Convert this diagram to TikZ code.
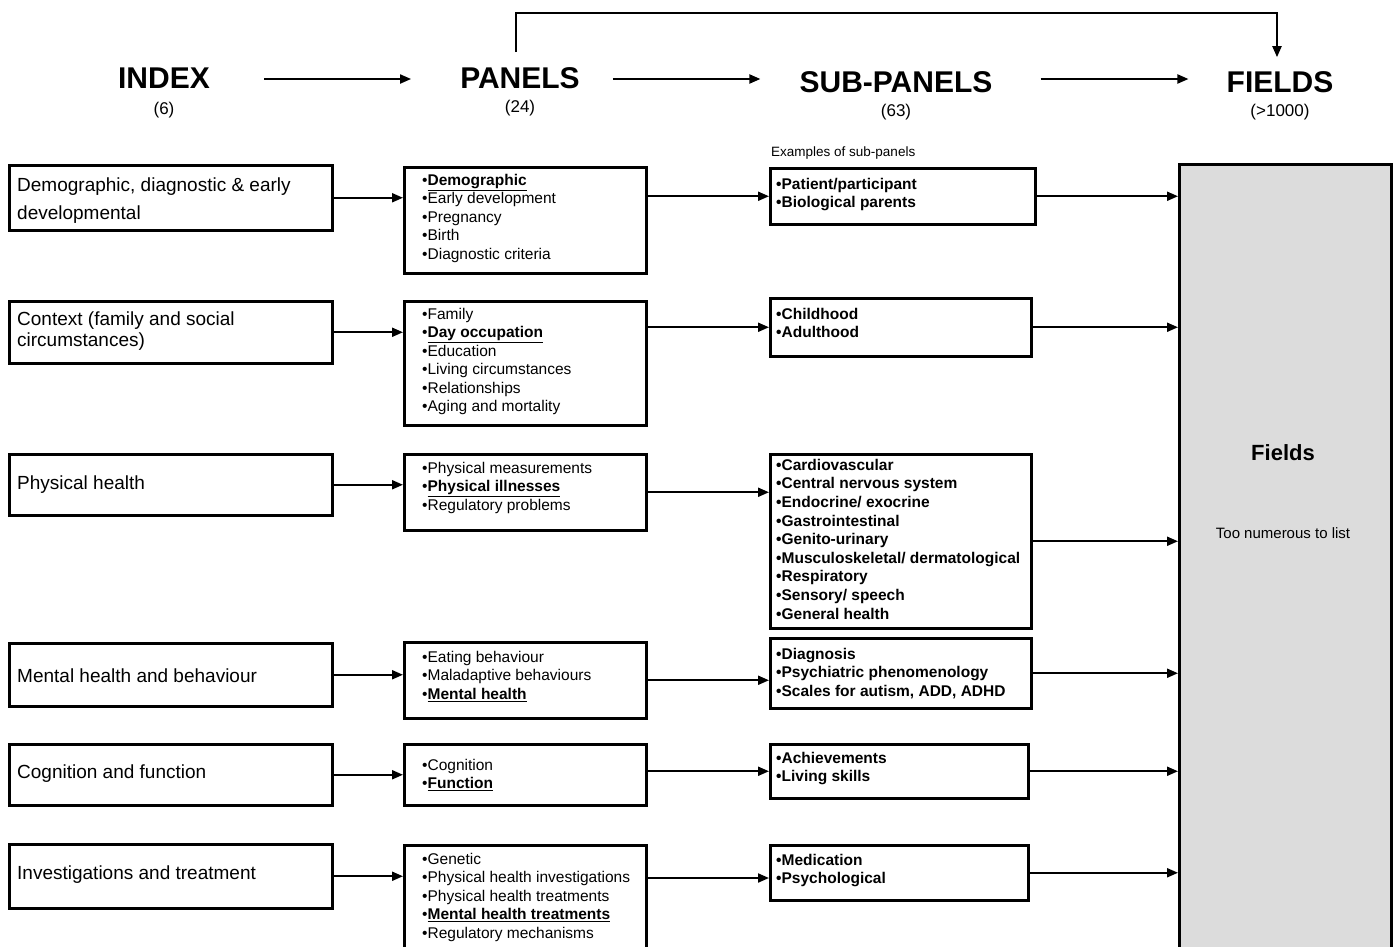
\documentclass[tikz,border=0pt]{standalone}
\usepackage{fontspec}
\setmainfont{Liberation Sans}
\usetikzlibrary{arrows.meta}
\definecolor{fieldgray}{RGB}{220,220,220}
\begin{document}
\begin{tikzpicture}[x=1pt,y=-1pt,
  box/.style={draw, line width=2.5pt, anchor=north west, inner sep=0pt},
  arr/.style={line width=2pt, -{Triangle[length=11pt,width=9pt]}},
  head/.style={inner sep=0pt, font=\fontsize{30}{34}\selectfont\bfseries},
  count/.style={inner sep=0pt, font=\fontsize{17}{20}\selectfont},
  itext/.style={anchor=north west, inner sep=0pt, align=left, font=\fontsize{19}{28.5}\selectfont},
  ptext/.style={anchor=north west, inner sep=0pt, align=left, font=\fontsize{15.5}{18.5}\selectfont},
  stext/.style={anchor=north west, inner sep=0pt, align=left, font=\fontsize{15.5}{18.6}\selectfont\bfseries}
]
\useasboundingbox (0,0) rectangle (1394,946);
\clip (0,0) rectangle (1394,946);

% headers
\node[head] (hindex) at (164,78) {INDEX};
\node[head] (hpanels) at (520,78) {PANELS};
\node[head] (hsub) at (896,82) {SUB-PANELS};
\node[head] (hfields) at (1280,82) {FIELDS};
\node[count] (cindex) at (164,110) {(6)};
\node[count] (cpanels) at (520,108) {(24)};
\node[count] (csub) at (896,112) {(63)};
\node[count] (cfields) at (1280,112) {(>1000)};
\coordinate (hy) at (0,79);
\draw[arr, shorten <=54pt, shorten >=49pt] (hindex.east |- hy) -- (hpanels.west |- hy);
\draw[arr, shorten <=33pt, shorten >=39pt] (hpanels.east |- hy) -- (hsub.west |- hy);
\draw[arr, shorten <=48pt, shorten >=38pt] (hsub.east |- hy) -- (hfields.west |- hy);
\draw[arr] ([xshift=-4pt,yshift=15pt]hpanels.north) -- ([xshift=-4pt,yshift=54pt]hpanels.north) -| ([xshift=-3pt,yshift=14pt]hfields.north);

% fields column
\node[box, fill=fieldgray, minimum width=212pt, minimum height=800pt] (f) at (1178,163) {};
\node[inner sep=0pt, font=\fontsize{22}{26}\selectfont\bfseries] (ftitle) at (1283,453) {Fields};
\node[inner sep=0pt, font=\fontsize{15}{18}\selectfont] (fnote) at (1283,533) {Too numerous to list};
\node[anchor=base west, inner sep=0pt, font=\fontsize{13.5}{16}\selectfont] (examples) at (771,156) {Examples of sub-panels};

% index boxes
\node[box, minimum width=323pt, minimum height=65pt] (i1) at (8,164) {};
\node[box, minimum width=323pt, minimum height=62pt] (i2) at (8,300) {};
\node[box, minimum width=323pt, minimum height=61pt] (i3) at (8,453) {};
\node[box, minimum width=323pt, minimum height=63pt] (i4) at (8,642) {};
\node[box, minimum width=323pt, minimum height=61pt] (i5) at (8,743) {};
\node[box, minimum width=323pt, minimum height=64pt] (i6) at (8,843) {};
\node[itext] (i1t) at (17,177.4) {Demographic, diagnostic \& early\\developmental};
\node[itext, font=\fontsize{19}{21.5}\selectfont] (i2t) at (17,311.4) {Context (family and social\\circumstances)};
\node[itext, anchor=base west] (i3t) at (17,489) {Physical health};
\node[itext, anchor=base west] (i4t) at (17,682) {Mental health and behaviour};
\node[itext, anchor=base west] (i5t) at (17,778) {Cognition and function};
\node[itext, anchor=base west] (i6t) at (17,879) {Investigations and treatment};

% panel boxes
\node[box, minimum width=242pt, minimum height=106pt] (p1) at (403,166) {};
\node[box, minimum width=242pt, minimum height=124pt] (p2) at (403,300) {};
\node[box, minimum width=242pt, minimum height=76pt] (p3) at (403,453) {};
\node[box, minimum width=242pt, minimum height=76pt] (p4) at (403,641) {};
\node[box, minimum width=242pt, minimum height=61pt] (p5) at (403,743) {};
\node[box, minimum width=242pt, minimum height=120pt] (p6) at (403,844) {};
\node[ptext] (p1t) at (422,173.8) {•\underline{\textbf{Demographic}}\\•Early development\\•Pregnancy\\•Birth\\•Diagnostic criteria};
\node[ptext] (p2t) at (422,307.8) {•Family\\•\underline{\textbf{Day occupation}}\\•Education\\•Living circumstances\\•Relationships\\•Aging and mortality};
\node[ptext] (p3t) at (422,461.8) {•Physical measurements\\•\underline{\textbf{Physical illnesses}}\\•Regulatory problems};
\node[ptext] (p4t) at (422,650.8) {•Eating behaviour\\•Maladaptive behaviours\\•\underline{\textbf{Mental health}}};
\node[ptext] (p5t) at (422,758.8) {•Cognition\\•\underline{\textbf{Function}}};
\node[ptext] (p6t) at (422,852.8) {•Genetic\\•Physical health investigations\\•Physical health treatments\\•\underline{\textbf{Mental health treatments}}\\•Regulatory mechanisms};

% sub-panel boxes
\node[box, minimum width=265pt, minimum height=56pt] (s1) at (769,167) {};
\node[box, minimum width=261pt, minimum height=58pt] (s2) at (769,297) {};
\node[box, minimum width=261pt, minimum height=174pt] (s3) at (769,453) {};
\node[box, minimum width=261pt, minimum height=70pt] (s4) at (769,637) {};
\node[box, minimum width=258pt, minimum height=54pt] (s5) at (769,743) {};
\node[box, minimum width=258pt, minimum height=55pt] (s6) at (769,844) {};
\node[stext] (s1t) at (776,177.8) {•Patient/participant\\•Biological parents};
\node[stext] (s2t) at (776,307.8) {•Childhood\\•Adulthood};
\node[stext] (s3t) at (776,458.8) {•Cardiovascular\\•Central nervous system\\•Endocrine/ exocrine\\•Gastrointestinal\\•Genito-urinary\\•Musculoskeletal/ dermatological\\•Respiratory\\•Sensory/ speech\\•General health};
\node[stext] (s4t) at (776,647.8) {•Diagnosis\\•Psychiatric phenomenology\\•Scales for autism, ADD, ADHD};
\node[stext] (s5t) at (776,751.8) {•Achievements\\•Living skills};
\node[stext] (s6t) at (776,853.8) {•Medication\\•Psychological};

% index -> panels
\foreach \k in {1,...,6} {
  \draw[arr] (i\k.east) -- (i\k.east -| p\k.west);
}
% panels -> sub-panels
\coordinate (a6) at (0,878);
\draw[arr] (p1.east |- s1.west) -- (s1.west);
\draw[arr] (p2.east |- s2.west) -- (s2.west);
\draw[arr] (p3.east) -- (p3.east -| s3.west);
\draw[arr] (p4.east) -- (p4.east -| s4.west);
\draw[arr] (p5.east |- s5.west) -- (s5.west);
\draw[arr] (p6.east |- a6) -- (s6.west |- a6);
% sub-panels -> fields
\foreach \k in {1,...,6} {
  \draw[arr] (s\k.east) -- (s\k.east -| f.west);
}
\end{tikzpicture}
\end{document}
